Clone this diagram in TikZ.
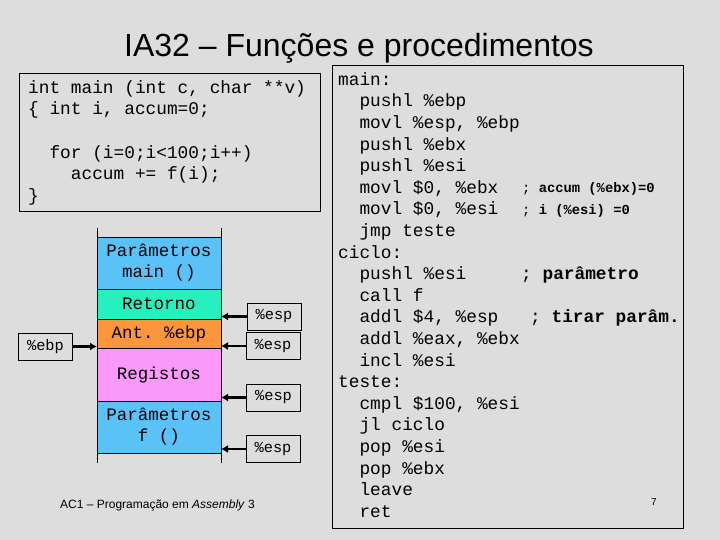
\documentclass[tikz,border=0pt]{standalone}
\usepackage{fontspec}
\setmainfont{Liberation Sans}
\setmonofont{Liberation Mono}
\usetikzlibrary{arrows.meta,positioning}

\definecolor{slidegray}{HTML}{DDDDDD}
\definecolor{parblue}{HTML}{5BC2F7}
\definecolor{retgreen}{HTML}{26F0BE}
\definecolor{antorange}{HTML}{FB963C}
\definecolor{regpink}{HTML}{FB99FB}

\begin{document}
\begin{tikzpicture}[x=1pt, y=-1pt,
  code/.style={font=\ttfamily\fontsize{17.8}{21.6}\selectfont, align=left,
               inner sep=0pt, anchor=north west},
  codebox/.style={draw, line width=0.8pt, inner sep=0pt},
  cell/.style={draw, line width=0.8pt, minimum width=124pt, inner sep=0pt, outer sep=0pt,
               align=center, font=\ttfamily\fontsize{17.5}{21}\selectfont},
  reg/.style={draw, line width=0.8pt, minimum width=54pt, minimum height=27pt, inner sep=0pt,
              font=\ttfamily\fontsize{15.3}{16}\selectfont},
  cmt/.style={anchor=base west, inner sep=0pt, font=\ttfamily\fontsize{13.8}{14}\selectfont},
  bigcmt/.style={anchor=base west, inner sep=0pt, font=\ttfamily\fontsize{17.8}{20}\selectfont},
  ptr/.style={-{Latex[length=7pt, width=8pt]}, line width=2.6pt}
]
\fill[slidegray] (0,0) rectangle (720,540);
\useasboundingbox (0,0) rectangle (720,540);

\node[anchor=base, font=\fontsize{32}{38}\selectfont] (title) at (359,56.5)
  {IA32 -- Funções e procedimentos};

% C source
\node[codebox, minimum width=301pt, minimum height=138pt] (cbox) at (169.5,142) {};
\node[code] (csrc) at (28,77.9) {\strut int main (int c, char **v)\\
  \{ int i, accum=0;\\[21.6pt]
  \ \ for (i=0;i<100;i++)\\
  \ \ \ \ accum += f(i);\\
  \}};

% stack frame
\node[cell, fill=parblue, minimum height=52pt] (pmain) at (159,263) {Parâmetros\\main ()};
\node[cell, fill=retgreen, minimum height=30pt, below=0pt of pmain] (ret) {Retorno};
\node[cell, fill=antorange, minimum height=29pt, below=0pt of ret] (ant) {Ant. \%ebp};
\node[cell, fill=regpink, minimum height=53pt, below=0pt of ant] (regs) {Registos};
\node[cell, fill=parblue, minimum height=52pt, below=0pt of regs] (pf) {Parâmetros\\f ()};
\draw[line width=0.8pt] (pmain.north west) -- ++(0,-9);
\draw[line width=0.8pt] (pmain.north east) -- ++(0,-9);
\draw[line width=0.8pt] (pf.south west) -- ++(0,10);
\draw[line width=0.8pt] (pf.south east) -- ++(0,10);

\node[reg] (ebp) at (45.5,346.5) {\%ebp};
\node[reg] (esp1) at (274,316.5) {\%esp};
\node[reg] (esp2) at (273,346) {\%esp};
\node[reg] (esp3) at (273.5,397.5) {\%esp};
\node[reg] (esp4) at (273,449) {\%esp};
\draw[ptr] (ebp) -- (ebp -| ant.west);
\draw[ptr] (esp1) -- (esp1 -| ant.east);
\draw[ptr] (esp2) -- (esp2 -| ant.east);
\draw[ptr] (esp3) -- (esp3 -| regs.east);
\draw[ptr] (esp4) -- (esp4 -| pf.east);

\node[anchor=base, font=\fontsize{12}{14}\selectfont] (foot) at (157.5,508)
  {AC1 -- Programação em \textit{Assembly} 3};

% assembly
\node[codebox, minimum width=351pt, minimum height=463pt] (abox) at (507.5,296.5) {};
\node[code] (asrc) at (338,69.9) {\strut main:\\
  \ \ pushl \%ebp\\
  \ \ movl \%esp, \%ebp\\
  \ \ pushl \%ebx\\
  \ \ pushl \%esi\\
  \ \ movl \$0, \%ebx\\
  \ \ movl \$0, \%esi\\
  \ \ jmp teste\\
  ciclo:\\
  \ \ pushl \%esi\\
  \ \ call f\\
  \ \ addl \$4, \%esp\\
  \ \ addl \%eax, \%ebx\\
  \ \ incl \%esi\\
  teste:\\
  \ \ cmpl \$100, \%esi\\
  \ \ jl ciclo\\
  \ \ pop \%esi\\
  \ \ pop \%ebx\\
  \ \ leave\\
  \ \ ret};
\node[cmt] (cacc) at (522,193) {; \textbf{accum (\%ebx)=0}};
\node[cmt] (ci) at (522,214.6) {; \textbf{i (\%esi) =0}};
\node[bigcmt] (cpar) at (521,279.4) {; \textbf{parâmetro}};
\node[bigcmt] (ctir) at (530,322.6) {; \textbf{tirar parâm.}};

\node[font=\fontsize{10}{12}\selectfont] (pg) at (654,502) {7};
\end{tikzpicture}
\end{document}
